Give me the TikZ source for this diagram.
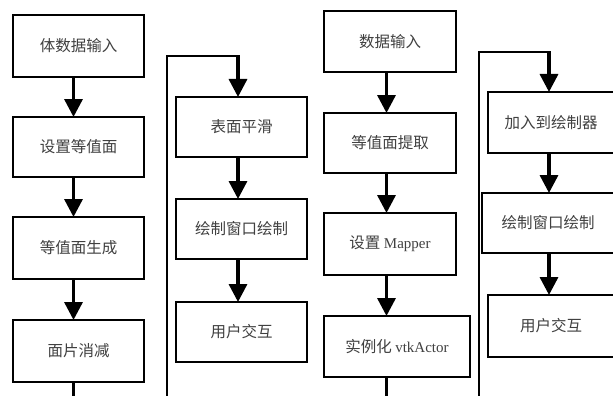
\documentclass[tikz,border=0pt]{standalone}
\usepackage{fontspec}
\setmainfont{Liberation Serif}
\newfontfamily\cjk{Noto Sans CJK SC}
\usetikzlibrary{arrows.meta}
\begin{document}
\begin{tikzpicture}[x=1pt,y=-1pt,
  box/.style={draw=black, line width=1.6pt, fill=white, inner sep=0pt, outer sep=0pt,
    text=black!75, font=\fontsize{15.5}{18}\selectfont\cjk},
  arr/.style={line width=3.4pt, -{Triangle[length=18pt,width=18pt]}},
  thick line/.style={line width=3.4pt},
  loop line/.style={line width=1.8pt}]
\newcommand\latintext[1]{{\rmfamily\fontsize{15}{18}\selectfont #1}}
\useasboundingbox (0,0) rectangle (613,396);
% column 1
\node[box, minimum width=131pt, minimum height=62pt] (a1) at (78.5,46) {体数据输入};
\node[box, minimum width=131pt, minimum height=60pt] (a2) at (78.5,147) {设置等值面};
\node[box, minimum width=131pt, minimum height=62pt] (a3) at (78.5,248) {等值面生成};
\node[box, minimum width=131pt, minimum height=62pt] (a4) at (78.5,351) {面片消减};
\coordinate (aend) at (73.5,397);
\draw[arr] ([xshift=-5pt]a1.south) -- ([xshift=-5pt]a2.north);
\draw[arr] ([xshift=-5pt]a2.south) -- ([xshift=-5pt]a3.north);
\draw[arr] ([xshift=-5pt]a3.south) -- ([xshift=-5pt]a4.north);
\draw[thick line] ([xshift=-5pt]a4.south) -- (aend);
% column 2
\node[box, minimum width=131pt, minimum height=60pt] (b1) at (241.5,127) {表面平滑};
\node[box, minimum width=131pt, minimum height=60pt] (b2) at (241.5,229) {绘制窗口绘制};
\node[box, minimum width=131pt, minimum height=60pt] (b3) at (241.5,332) {用户交互};
\coordinate (bstart) at (167,397);
\coordinate (bcorner) at (167,56);
\coordinate (btop) at (238,56);
\draw[loop line] (bstart) -- (bcorner) -- ([xshift=1.7pt]btop);
\draw[arr] ([yshift=-0.9pt]btop) -- ([xshift=-3.5pt]b1.north);
\draw[arr] ([xshift=-3.5pt]b1.south) -- ([xshift=-3.5pt]b2.north);
\draw[arr] ([xshift=-3.5pt]b2.south) -- ([xshift=-3.5pt]b3.north);
% column 3
\node[box, minimum width=132pt, minimum height=61pt] (c1) at (390,41.5) {数据输入};
\node[box, minimum width=132pt, minimum height=60pt] (c2) at (390,143) {等值面提取};
\node[box, minimum width=132pt, minimum height=62pt] (c3) at (390,244) {设置 \latintext{Mapper}};
\node[box, minimum width=146pt, minimum height=61pt] (c4) at (397,346.5) {实例化 \latintext{vtkActor}};
\coordinate (cend) at (386.5,397);
\draw[arr] ([xshift=-3.5pt]c1.south) -- ([xshift=-3.5pt]c2.north);
\draw[arr] ([xshift=-3.5pt]c2.south) -- ([xshift=-3.5pt]c3.north);
\draw[arr] ([xshift=-3.5pt]c3.south) -- ([xshift=-10.5pt]c4.north);
\draw[thick line] ([xshift=-10.5pt]c4.south) -- (cend);
% column 4
\node[box, minimum width=126pt, minimum height=61pt] (d1) at (551,122.5) {加入到绘制器};
\node[box, minimum width=132pt, minimum height=60pt] (d2) at (548,223) {绘制窗口绘制};
\node[box, minimum width=126pt, minimum height=62pt] (d3) at (551,326) {用户交互};
\coordinate (dstart) at (479,397);
\coordinate (dcorner) at (479,52);
\coordinate (dtop) at (549,52);
\draw[loop line] (dstart) -- (dcorner) -- ([xshift=1.7pt]dtop);
\draw[arr] ([yshift=-0.9pt]dtop) -- ([xshift=-2pt]d1.north);
\draw[arr] ([xshift=-2pt]d1.south) -- ([xshift=1pt]d2.north);
\draw[arr] ([xshift=1pt]d2.south) -- ([xshift=-2pt]d3.north);
\end{tikzpicture}
\end{document}
